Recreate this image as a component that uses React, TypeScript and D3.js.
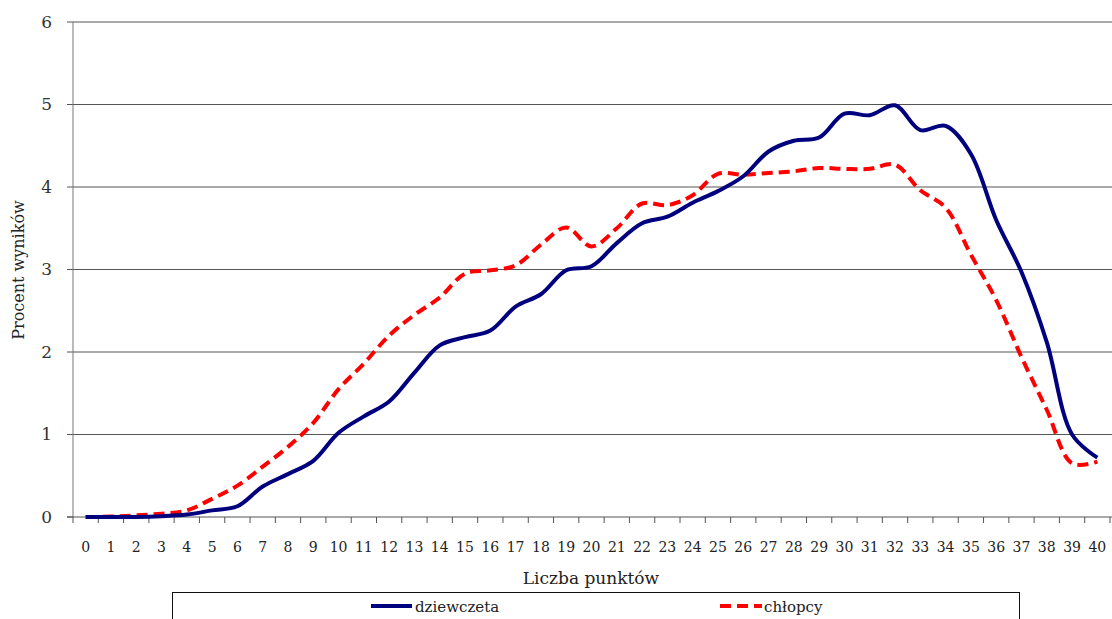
import React from "react";
import * as d3 from "d3";

const categories: number[] = d3.range(0, 41);
const yTicks: number[] = [0, 1, 2, 3, 4, 5, 6];

const girls: number[] = [
  0, 0, 0, 0.01, 0.03, 0.08, 0.13, 0.37, 0.52, 0.68, 1.02, 1.22, 1.4, 1.75, 2.08,
  2.18, 2.26, 2.55, 2.7, 2.99, 3.04, 3.32, 3.56, 3.64, 3.81, 3.95, 4.13, 4.43,
  4.56, 4.6, 4.89, 4.87, 4.99, 4.69, 4.74, 4.4, 3.6, 2.97, 2.12, 1.0, 0.72,
];
const boys: number[] = [
  0, 0.005, 0.02, 0.04, 0.08, 0.22, 0.38, 0.61, 0.85, 1.14, 1.55, 1.86, 2.2,
  2.45, 2.66, 2.95, 2.99, 3.05, 3.3, 3.51, 3.28, 3.5, 3.8, 3.78, 3.9, 4.16,
  4.15, 4.17, 4.19, 4.23, 4.22, 4.22, 4.27, 3.96, 3.75, 3.18, 2.63, 1.94, 1.3,
  0.65, 0.67,
];
const seriesNames: string[] = ["dziewczeta", "chłopcy"];

const W = 1112;
const H = 619;
const M = { left: 73, right: 1110, top: 22, bottom: 517 };
const FONT = "'DejaVu Serif', serif";

export default function App() {
  const x = d3
    .scaleBand<number>()
    .domain(categories)
    .range([M.left, M.right])
    .paddingInner(0)
    .paddingOuter(0);
  const y = d3.scaleLinear().domain([0, 6]).range([M.bottom, M.top]);
  const cx = (i: number) => (x(i) as number) + x.bandwidth() / 2;

  const line = d3
    .line<number>()
    .x((_, i) => cx(categories[i]))
    .y((d) => y(d))
    .curve(d3.curveCatmullRom.alpha(0.5));

  const boundaries = d3.range(0, categories.length + 1).map(
    (k) => M.left + k * x.bandwidth()
  );

  const txt = { fontFamily: FONT };

  return (
    <svg
      width={W}
      height={H}
      style={{ position: "absolute", left: 0, top: 0, display: "block", background: "#fff" }}
    >
      {yTicks.map((t) =>
        t === 0 ? null : (
          <line key={"g" + t} x1={M.left - 6} x2={M.right + 2} y1={y(t)} y2={y(t)} stroke="#555" strokeWidth={1} />
        )
      )}
      <line x1={M.left} x2={M.left} y1={M.top} y2={M.bottom} stroke="#777" strokeWidth={1} />
      <line x1={M.left - 6} x2={M.left} y1={M.bottom} y2={M.bottom} stroke="#555" />
      {yTicks.map((t) => (
        <text key={"yt" + t} x={M.left - 21} y={y(t)} dy="0.35em" textAnchor="end" style={txt} fontSize={17} fill="#333">
          {t}
        </text>
      ))}
      <line x1={M.left - 6} x2={M.right + 2} y1={M.bottom} y2={M.bottom} stroke="#555" strokeWidth={1} />
      {boundaries.map((b, k) => (
        <line key={"xt" + k} x1={b} x2={b} y1={M.bottom} y2={M.bottom + 6} stroke="#555" />
      ))}
      {categories.map((c) => (
        <text key={"xl" + c} x={cx(c)} y={552} textAnchor="middle" style={txt} fontSize={14} fill="#222">
          {c}
        </text>
      ))}
      <text x={591} y={584} textAnchor="middle" style={txt} fontSize={17} fill="#222">
        Liczba punktów
      </text>
      <text transform={`translate(24, ${270}) rotate(-90)`} textAnchor="middle" style={txt} fontSize={16} fill="#222">
        Procent wyników
      </text>
      <path d={line(boys) || ""} fill="none" stroke="#ff0000" strokeWidth={4} strokeDasharray="11,6" />
      <path d={line(girls) || ""} fill="none" stroke="#00007e" strokeWidth={4} />
      <rect x={172.5} y={592.5} width={847} height={40} fill="#fff" stroke="#111" strokeWidth={1} />
      <line x1={371} x2={412} y1={606} y2={606} stroke="#00007e" strokeWidth={4} />
      <text x={415} y={612} style={txt} fontSize={15} fill="#222">
        {seriesNames[0]}
      </text>
      <line x1={720} x2={762} y1={606} y2={606} stroke="#ff0000" strokeWidth={4} strokeDasharray="11,6" />
      <text x={764} y={612} style={txt} fontSize={15} fill="#222">
        {seriesNames[1]}
      </text>
    </svg>
  );
}
